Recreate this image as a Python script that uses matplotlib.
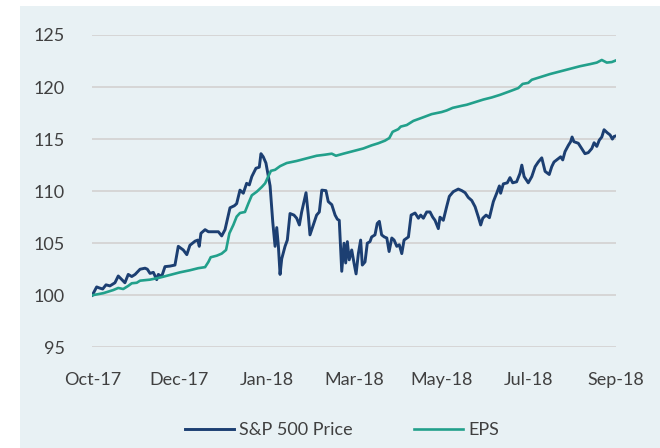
import matplotlib.pyplot as plt
from matplotlib.patches import Rectangle

# trading-day index (0..252) and rebased values
spx_day = [0, 2.1, 3.4, 5.0, 6.6, 8.5, 10.9, 12.5, 14.2, 15.7, 17.3, 19.0, 20.6, 23.0, 25.4,
           26.5, 27.8, 29.4, 31.0, 31.8, 33.4, 35.0, 37.4, 39.8, 41.4, 43.8, 45.5, 47.0, 49.5,
           50.8, 51.5, 52.3, 54.3, 55.9, 58.3, 60.7, 62.3, 63.9, 66.3, 68.4, 69.5, 71.1, 72.7,
           74.3, 75.6, 76.8, 78.8, 80.4, 81.2, 82.3, 83.6, 85.6, 86.9, 88.0, 88.8, 89.6, 90.4,
           91.2, 92.8, 93.9, 95.2, 97.1, 98.4, 99.7, 100.8, 102.9, 104.0, 104.8, 106.4, 108.0,
           109.3, 110.5, 112.5, 113.6, 115.3, 116.9, 118.0, 118.9, 120.1, 121.2, 122.0, 122.8,
           123.7, 124.9, 126.0, 127.0, 128.1, 129.2, 130.0, 131.3, 132.4, 133.7, 134.5, 136.1,
           137.2, 138.2, 139.3, 140.6, 141.8, 142.9, 144.2, 145.3, 146.6, 147.8, 149.0, 150.1,
           152.2, 153.5, 155.4, 157.0, 158.1, 159.4, 161.0, 162.6, 163.9, 165.0, 166.6, 167.4,
           169.0, 170.6, 171.9, 173.8, 176.2, 177.9, 179.5, 181.0, 182.7, 184.3, 185.9, 187.0,
           188.0, 189.6, 191.2, 193.1, 194.7, 196.0, 196.6, 197.9, 199.8, 201.1, 202.4, 204.3,
           205.9, 206.8, 207.9, 209.9, 211.6, 213.2, 214.7, 216.4, 218.0, 220.0, 221.2, 222.3,
           223.6, 225.5, 226.5, 227.6, 229.2, 230.3, 231.0, 231.9, 234.0, 235.6, 237.2, 238.8,
           240.5, 241.6, 242.9, 244.1, 245.3, 246.4, 248.0, 249.3, 250.4, 251.2, 252]
spx_val = [100.0, 100.8, 100.7, 100.6, 101.0, 100.9, 101.2, 101.85, 101.5, 101.2, 102.0, 101.8,
           102.0, 102.5, 102.6, 102.5, 102.1, 102.2, 101.5, 102.0, 101.8, 102.75, 102.8, 102.9,
           104.7, 104.35, 103.9, 104.8, 105.2, 105.3, 104.7, 105.95, 106.3, 106.1, 106.1, 106.1,
           105.7, 106.3, 108.4, 108.6, 108.8, 110.1, 109.8, 110.75, 110.6, 111.4, 112.2, 112.3,
           113.6, 113.3, 112.7, 110.5, 107.0, 104.7, 106.5, 104.7, 102.0, 103.5, 104.7, 105.3,
           107.85, 107.7, 107.4, 106.75, 108.0, 109.85, 107.7, 105.8, 106.75, 107.7, 108.0, 110.1,
           110.05, 109.0, 108.7, 107.7, 107.3, 107.2, 102.3, 105.0, 103.1, 105.15, 103.4, 104.35,
           103.1, 102.05, 104.0, 105.3, 102.9, 103.2, 105.0, 105.15, 105.6, 105.8, 106.9, 107.1,
           105.8, 105.6, 105.5, 104.2, 105.5, 105.3, 104.7, 104.85, 104.0, 105.3, 105.6, 107.7,
           107.9, 107.4, 107.7, 107.4, 108.0, 108.0, 107.5, 107.2, 106.4, 107.5, 107.2, 108.5,
           109.5, 109.95, 110.2, 110.05, 109.85, 109.4, 109.1, 108.5, 107.5, 106.75, 107.4, 107.7,
           107.45, 109.0, 109.8, 110.5, 109.8, 110.7, 110.8, 111.3, 110.8, 110.9, 111.7, 112.5,
           111.4, 110.8, 111.4, 112.35, 112.8, 113.2, 111.9, 111.6, 112.35, 112.8, 113.0, 113.3,
           113.0, 113.8, 114.4, 114.75, 115.2, 114.75, 114.6, 114.1, 113.6, 113.7, 114.1, 114.65,
           114.3, 114.9, 115.2, 115.9, 115.6, 115.4, 115.0, 115.25, 115.3]

eps_day = [0, 5.3, 10.1, 12.5, 14.9, 17.3, 19.0, 21.4, 23.0, 27.8, 32.6, 37.4, 42.2, 47.0, 51.0,
           54.3, 55.9, 57.0, 59.9, 62.3, 64.4, 66.0, 67.9, 69.5, 71.1, 73.5, 75.1, 76.8, 79.2,
           81.6, 83.2, 84.7, 86.0, 88.0, 90.4, 93.6, 98.4, 103.2, 108.0, 112.0, 115.3, 117.3,
           120.9, 125.7, 130.5, 134.5, 137.7, 140.9, 143.0, 144.6, 147.3, 148.5, 151.4, 154.6,
           159.4, 163.4, 168.2, 170.6, 173.5, 177.9, 180.3, 182.7, 188.3, 192.3, 196.3, 201.1,
           205.1, 207.2, 209.9, 211.6, 215.6, 220.4, 225.2, 230.0, 234.8, 239.6, 242.9, 245.3,
           247.7, 250.1, 252]
eps_val = [100.0, 100.2, 100.5, 100.7, 100.6, 100.9, 101.15, 101.2, 101.4, 101.5, 101.7, 101.95,
           102.2, 102.4, 102.6, 102.7, 103.2, 103.65, 103.8, 104.0, 104.35, 105.95, 106.75, 107.55,
           107.9, 108.0, 108.8, 109.6, 109.95, 110.4, 110.75, 111.4, 111.95, 112.05, 112.4, 112.7,
           112.9, 113.15, 113.4, 113.5, 113.6, 113.4, 113.6, 113.85, 114.1, 114.4, 114.6, 114.85,
           115.1, 115.7, 115.95, 116.2, 116.35, 116.75, 117.1, 117.4, 117.6, 117.75, 118.0, 118.2,
           118.3, 118.45, 118.8, 119.0, 119.25, 119.6, 119.9, 120.3, 120.4, 120.7, 120.95, 121.25,
           121.5, 121.75, 122.0, 122.2, 122.35, 122.6, 122.35, 122.4, 122.55]

tick_labels = ["Oct-17", "Dec-17", "Jan-18", "Mar-18", "May-18", "Jul-18", "Sep-18"]
n_days = 252

plt.rcParams['font.family'] = ['Lato', 'DejaVu Sans']

fig = plt.figure(figsize=(6.6, 4.48), dpi=100)
# light panel behind the chart
fig.patches.append(Rectangle((20 / 660, 0), 1, 1 - 6 / 448, transform=fig.transFigure,
                             facecolor='#e8f1f4', edgecolor='none', zorder=-5))

ax = fig.add_axes([92.3 / 660, 1 - 347.3 / 448, 523.4 / 660, 312.3 / 448])
ax.set_zorder(2)
ax.set_facecolor('none')
ax.plot(spx_day, spx_val, color='#1c3f72', lw=2.1, label='S&P 500 Price', zorder=3)
ax.plot(eps_day, eps_val, color='#22a08b', lw=1.9, label='EPS', zorder=3)

ax.set_xlim(0, n_days)
ax.set_ylim(95, 125)
ax.set_yticks(range(95, 126, 5))
ax.set_xticks([n_days * i / 6 for i in range(7)])
ax.set_xticklabels(tick_labels)
ax.grid(axis='y', color='#d6d6d6', lw=1.4)
ax.set_axisbelow(True)
for s in ax.spines.values():
    s.set_visible(False)
ax.tick_params(length=0, labelsize=13, colors='#404040')
ax.tick_params(axis='y', pad=20)
ax.tick_params(axis='x', pad=18)

leg = fig.legend(loc='center', bbox_to_anchor=(342 / 660, 1 - 430 / 448), ncol=2,
                 frameon=False, fontsize=13, handlelength=2.7, handletextpad=0.3,
                 columnspacing=3.4, labelcolor='#404040')
leg.set_zorder(3)

fig.savefig('out.png', dpi=100)
